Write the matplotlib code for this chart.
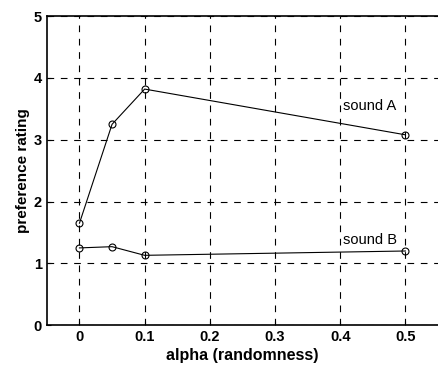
import matplotlib
matplotlib.use('Agg')
import matplotlib.pyplot as plt

# valores
alpha = [0, 0.05, 0.1, 0.5]
sound_a = [1.65, 3.25, 3.82, 3.08]
sound_b = [1.25, 1.27, 1.13, 1.20]
xticks = [0, 0.1, 0.2, 0.3, 0.4, 0.5]
yticks = [0, 1, 2, 3, 4, 5]

plt.rcParams['font.family'] = ['Liberation Sans', 'DejaVu Sans']

fig = plt.figure(figsize=(4.38, 3.67), dpi=100)
ax = fig.add_axes([0.107, 0.114, 0.893, 0.842])

ax.plot(alpha, sound_a, color='black', lw=0.8, marker='o', ms=5, mfc='none', mec='black', mew=0.8)
ax.plot(alpha, sound_b, color='black', lw=0.8, marker='o', ms=5, mfc='none', mec='black', mew=0.8)

ax.text(0.405, 3.55, 'sound A', fontsize=10.5, ha='left', va='center')
ax.text(0.405, 1.38, 'sound B', fontsize=10.5, ha='left', va='center')

ax.set_xlim(-0.05, 0.55)
ax.set_ylim(0, 5)
ax.set_xticks(xticks)
ax.set_xticklabels(['0', '0.1', '0.2', '0.3', '0.4', '0.5'])
ax.set_yticks(yticks)
ax.grid(True, color='black', ls=(0, (6, 6)), lw=0.8)
ax.tick_params(direction='in', length=3, labelsize=10.5, width=0.8)
for lab in ax.get_xticklabels() + ax.get_yticklabels():
    lab.set_fontweight('bold')

ax.set_xlabel('alpha (randomness)', fontsize=11.5, fontweight='bold', labelpad=3)
ax.set_ylabel('preference rating', fontsize=11, fontweight='bold', labelpad=3)

for s in ['left', 'bottom', 'top']:
    ax.spines[s].set_linewidth(1.2)
ax.spines['right'].set_visible(False)

fig.savefig('out.png', dpi=100)
